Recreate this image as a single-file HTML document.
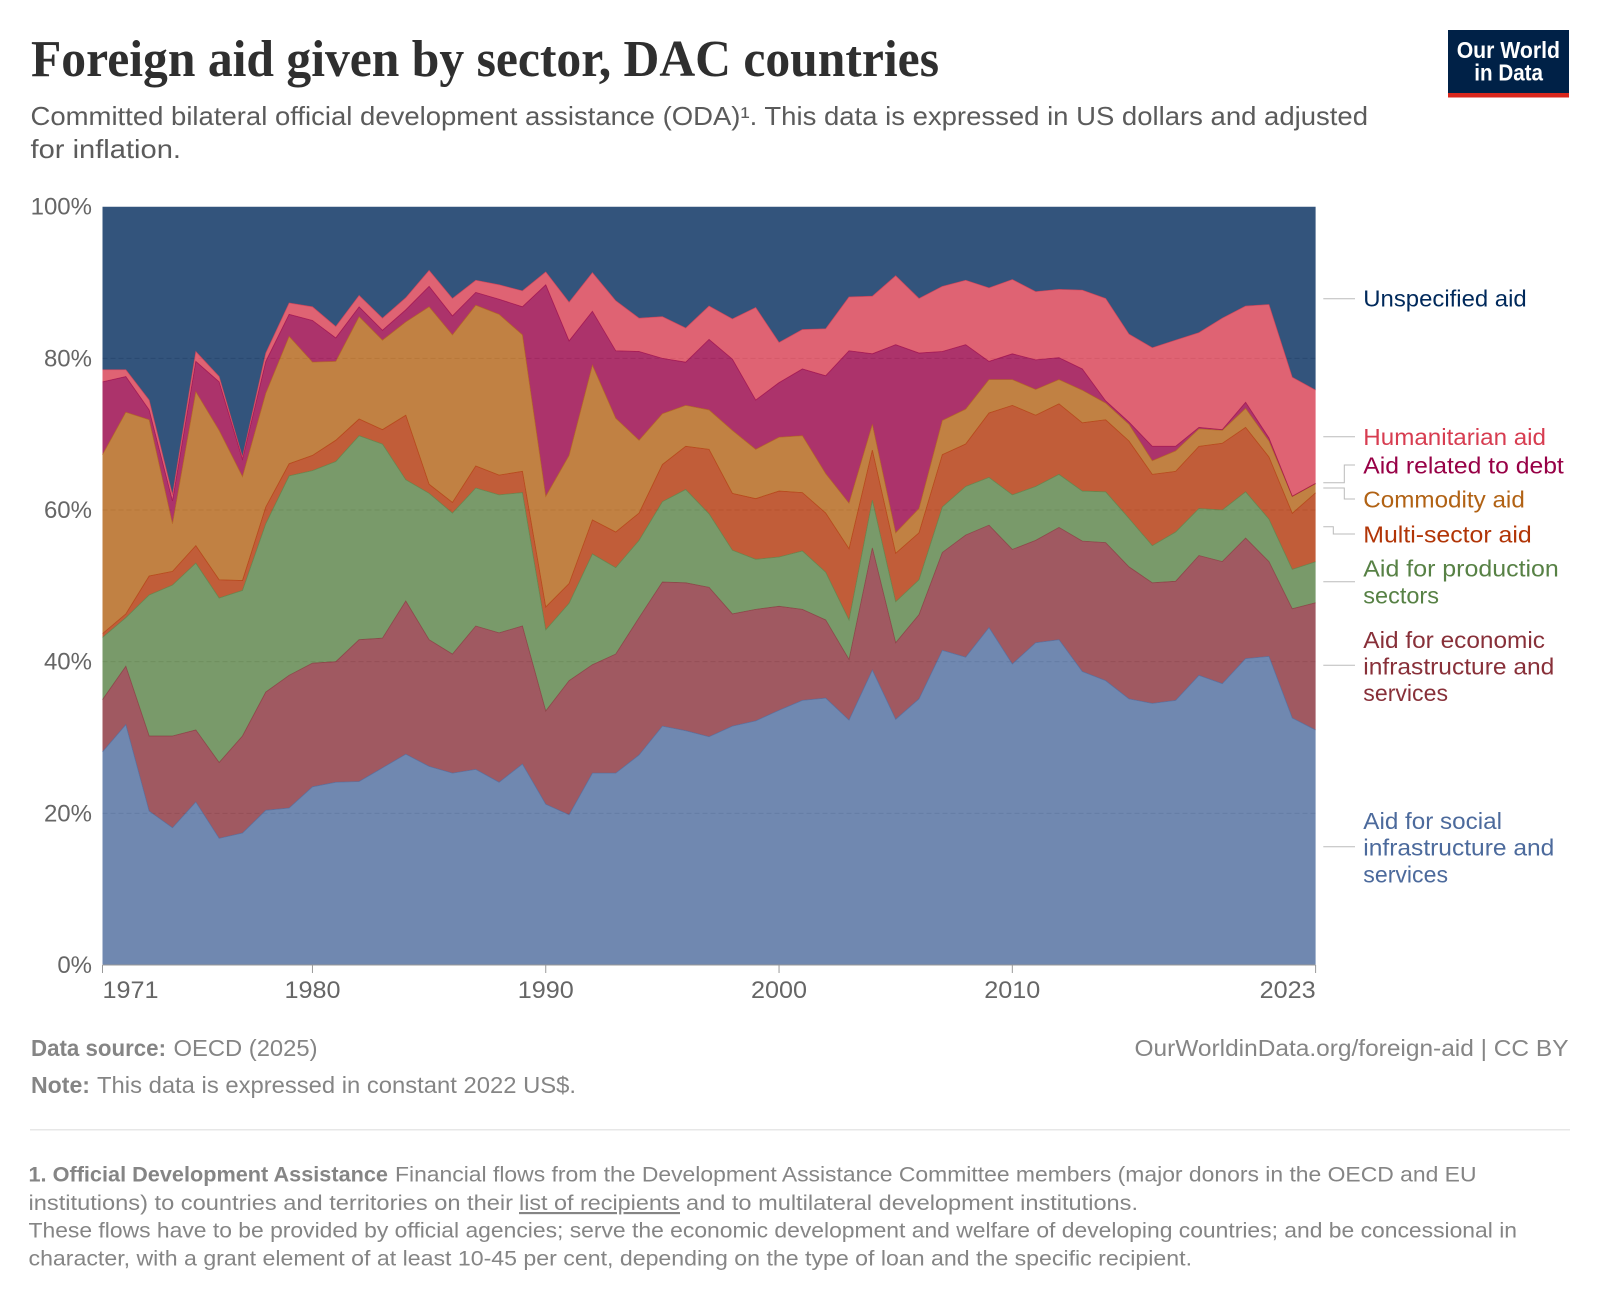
<!DOCTYPE html>
<html lang="en">
<head>
<meta charset="utf-8">
<title>Foreign aid given by sector, DAC countries</title>
<style>
html,body{margin:0;padding:0;background:#fff;}
svg{display:block;}
text{font-family:"Liberation Sans",sans-serif;}
.title{font-family:"Liberation Serif",serif;font-weight:700;font-size:52px;fill:#2f2f2f;}
.sub{font-size:26px;fill:#5b5b5b;}
.tick{font-size:24px;fill:#666;}
.leg{font-size:23.5px;}
.src{font-size:23px;fill:#858585;}
.fn{font-size:21.5px;fill:#858585;}
.b{font-weight:700;}
.conn{fill:none;stroke:#bbb;stroke-width:1;}
</style>
</head>
<body>
<svg id="chart" xmlns="http://www.w3.org/2000/svg" width="1600" height="1302" viewBox="0 0 1600 1302">
<rect x="0" y="0" width="1600" height="1302" fill="#fff"/>
<text class="title" x="31" y="76" textLength="908" lengthAdjust="spacingAndGlyphs">Foreign aid given by sector, DAC countries</text>
<text class="sub" x="30.5" y="125" textLength="1337.5" lengthAdjust="spacingAndGlyphs">Committed bilateral official development assistance (ODA)¹. This data is expressed in US dollars and adjusted</text>
<text class="sub" x="30.5" y="158" textLength="150.5" lengthAdjust="spacingAndGlyphs">for inflation.</text>

<g>
<rect x="1448" y="30" width="121" height="67.5" fill="#002147"/>
<rect x="1448" y="93" width="121" height="4.5" fill="#d9261c"/>
<text x="1456.7" y="58" fill="#fff" font-weight="700" font-size="23" textLength="103.3" lengthAdjust="spacingAndGlyphs">Our World</text>
<text x="1474.3" y="80.7" fill="#fff" font-weight="700" font-size="23" textLength="68.7" lengthAdjust="spacingAndGlyphs">in Data</text>
</g>

<g id="grid"></g>
<g id="areas"></g>
<g id="axes"></g>

<g>
<path class="conn" d="M1323.3 298.7H1355"/>
<path class="conn" d="M1323.3 436.7H1355"/>
<path class="conn" d="M1323.3 482.7H1344.3V465H1355"/>
<path class="conn" d="M1323.3 488H1344.3V499H1355"/>
<path class="conn" d="M1323.3 526.7H1333.3V534H1355"/>
<path class="conn" d="M1323.3 581.7H1355"/>
<path class="conn" d="M1323.3 665.3H1355"/>
<path class="conn" d="M1323.3 846.7H1355"/>
<text class="leg" x="1363.3" y="306.7" fill="#00295b" textLength="163.4" lengthAdjust="spacingAndGlyphs">Unspecified aid</text>
<text class="leg" x="1363.3" y="445" fill="#d73c50" textLength="182.7" lengthAdjust="spacingAndGlyphs">Humanitarian aid</text>
<text class="leg" x="1363.3" y="473.3" fill="#970046" textLength="200.5" lengthAdjust="spacingAndGlyphs">Aid related to debt</text>
<text class="leg" x="1363.3" y="507.3" fill="#b16214" textLength="161.5" lengthAdjust="spacingAndGlyphs">Commodity aid</text>
<text class="leg" x="1363.3" y="542.3" fill="#b13507" textLength="168.4" lengthAdjust="spacingAndGlyphs">Multi-sector aid</text>
<text class="leg" x="1363.3" y="576.7" fill="#578145" textLength="195.5" lengthAdjust="spacingAndGlyphs">Aid for production</text>
<text class="leg" x="1363.3" y="603.3" fill="#578145" textLength="75.7" lengthAdjust="spacingAndGlyphs">sectors</text>
<text class="leg" x="1363.3" y="648" fill="#883039" textLength="181.7" lengthAdjust="spacingAndGlyphs">Aid for economic</text>
<text class="leg" x="1363.3" y="674.5" fill="#883039" textLength="191" lengthAdjust="spacingAndGlyphs">infrastructure and</text>
<text class="leg" x="1363.3" y="701" fill="#883039" textLength="84.7" lengthAdjust="spacingAndGlyphs">services</text>
<text class="leg" x="1363.3" y="829" fill="#4c6a9c" textLength="138.7" lengthAdjust="spacingAndGlyphs">Aid for social</text>
<text class="leg" x="1363.3" y="855.5" fill="#4c6a9c" textLength="191" lengthAdjust="spacingAndGlyphs">infrastructure and</text>
<text class="leg" x="1363.3" y="882.5" fill="#4c6a9c" textLength="84.7" lengthAdjust="spacingAndGlyphs">services</text>
</g>

<text class="src b" x="31" y="1056" textLength="135" lengthAdjust="spacingAndGlyphs">Data source:</text>
<text class="src" x="173.5" y="1056" textLength="144" lengthAdjust="spacingAndGlyphs">OECD (2025)</text>
<text class="src" x="1134.5" y="1056" textLength="434" lengthAdjust="spacingAndGlyphs">OurWorldinData.org/foreign-aid | CC BY</text>
<text class="src b" x="31" y="1093" textLength="59" lengthAdjust="spacingAndGlyphs">Note:</text>
<text class="src" x="97" y="1093" textLength="479" lengthAdjust="spacingAndGlyphs">This data is expressed in constant 2022 US$.</text>
<rect x="30" y="1129" width="1540" height="1.5" fill="#e7e7e7"/>
<text class="fn b" x="28.5" y="1181.7" textLength="359.5" lengthAdjust="spacingAndGlyphs">1. Official Development Assistance</text>
<text class="fn" x="395" y="1181.7" textLength="1081.5" lengthAdjust="spacingAndGlyphs">Financial flows from the Development Assistance Committee members (major donors in the OECD and EU</text>
<text class="fn" x="28.5" y="1210" textLength="484.5" lengthAdjust="spacingAndGlyphs">institutions) to countries and territories on their</text>
<text class="fn" x="519" y="1210" textLength="161" lengthAdjust="spacingAndGlyphs" text-decoration="underline">list of recipients</text>
<text class="fn" x="686" y="1210" textLength="452" lengthAdjust="spacingAndGlyphs">and to multilateral development institutions.</text>
<text class="fn" x="28.5" y="1237.5" textLength="1488.5" lengthAdjust="spacingAndGlyphs">These flows have to be provided by official agencies; serve the economic development and welfare of developing countries; and be concessional in</text>
<text class="fn" x="28.5" y="1265.5" textLength="1163.5" lengthAdjust="spacingAndGlyphs">character, with a grant element of at least 10-45 per cent, depending on the type of loan and the specific recipient.</text>
</svg>

<script>
const years = [1971,1972,1973,1974,1975,1976,1977,1978,1979,1980,1981,1982,1983,1984,1985,1986,1987,1988,1989,1990,1991,1992,1993,1994,1995,1996,1997,1998,1999,2000,2001,2002,2003,2004,2005,2006,2007,2008,2009,2010,2011,2012,2013,2014,2015,2016,2017,2018,2019,2020,2021,2022,2023];
const socialAid = [28.1,31.7,20.3,18.1,21.5,16.7,17.4,20.4,20.7,23.5,24.1,24.2,26.0,27.8,26.2,25.3,25.8,24.1,26.5,21.2,19.8,25.3,25.3,27.7,31.5,30.9,30.1,31.5,32.2,33.6,34.9,35.2,32.3,38.9,32.4,35.1,41.5,40.6,44.5,39.7,42.5,42.9,38.7,37.5,35.1,34.5,34.9,38.2,37.1,40.4,40.7,32.6,31.0];
const economicAid = [6.9,7.7,9.9,12.1,9.5,10.0,12.8,15.6,17.5,16.3,15.9,18.7,17.1,20.2,16.7,15.7,18.9,19.7,18.2,12.3,17.7,14.3,15.7,18.1,19.0,19.5,19.7,14.8,14.7,13.7,12.0,10.3,8.0,16.1,10.1,11.1,12.9,16.1,13.5,15.1,13.5,14.8,17.2,18.2,17.4,15.9,15.7,15.8,16.1,15.9,12.5,14.4,16.8];
const productionAid = [8.2,6.4,18.6,19.9,22.0,21.7,19.2,22.2,26.3,25.4,26.4,26.9,25.6,16.0,19.3,18.6,18.2,18.2,17.6,10.7,10.2,14.6,11.4,10.2,10.6,12.3,9.7,8.4,6.6,6.5,7.7,6.3,5.2,6.3,5.4,4.6,6.0,6.4,6.3,7.2,7.1,7.0,6.6,6.7,6.4,4.9,6.5,6.2,6.8,6.1,5.6,5.2,5.4];
const multiSectorAid = [0.5,0.5,2.5,1.8,2.3,2.4,1.3,2.2,1.6,2.0,2.8,2.2,1.9,8.5,1.2,1.4,2.9,2.6,2.8,3.0,2.6,4.5,4.7,3.6,4.9,5.7,8.5,7.5,8.0,8.7,7.7,7.8,9.4,6.6,6.4,6.2,6.9,5.6,8.5,11.8,9.4,9.3,9.0,9.5,10.2,9.4,8.0,8.2,8.8,8.5,8.2,7.4,9.1];
const commodityAid = [23.6,26.6,20.6,6.3,20.3,19.7,13.7,15.0,16.8,12.3,10.4,13.5,11.8,12.3,23.4,22.1,21.2,21.2,18.0,14.6,16.9,20.4,15.0,9.6,6.7,5.4,5.2,8.3,6.5,7.1,7.5,5.2,6.0,3.4,2.7,3.2,4.5,4.6,4.4,3.4,3.4,3.2,4.3,2.2,2.2,1.8,2.7,2.3,1.7,2.5,2.1,2.2,1.2];
const debtAid = [9.6,4.7,1.3,3.0,4.0,6.4,2.3,4.2,2.9,5.5,3.1,1.3,1.3,1.6,2.7,2.5,1.7,2.0,3.7,27.9,15.1,7.1,8.9,11.7,7.3,5.7,9.3,9.4,6.5,7.2,8.8,12.9,20.1,9.3,24.8,20.5,9.1,8.5,2.4,3.4,3.9,2.9,2.8,0.3,0.3,1.9,0.6,0.2,0.1,0.8,0.4,0.05,0.05];
const humanitarianAid = [1.6,0.9,1.3,0.8,1.3,0.7,0.3,1.1,1.5,1.8,1.5,1.5,1.6,1.6,2.1,2.3,1.6,1.9,2.1,1.7,5.1,5.1,6.6,4.4,5.5,4.5,4.4,5.3,12.2,5.3,5.2,6.2,7.1,7.6,9.1,7.2,8.6,8.5,9.7,9.8,9.0,9.0,10.4,13.5,11.6,13.0,14.0,12.5,14.7,12.7,17.6,15.7,12.3];
const unspecifiedAid = [21.5,21.5,25.5,38.0,19.1,22.4,33.0,19.3,12.7,13.2,15.8,11.7,14.7,12.0,8.4,12.1,9.7,10.3,11.1,8.6,12.6,8.7,12.4,14.7,14.5,16.0,13.1,14.8,13.3,17.9,16.2,16.1,11.9,11.8,9.1,12.1,10.5,9.7,10.7,9.6,11.2,10.9,11.0,12.1,16.8,18.6,17.6,16.6,14.7,13.1,12.9,22.5,24.2];
const yTickValues = [0,20,40,60,80,100];
const xTickYears = [1971,1980,1990,2000,2010,2023];

const stackOrder = [
  {name:'social', values:socialAid, color:'#4c6a9c'},
  {name:'economic', values:economicAid, color:'#883039'},
  {name:'production', values:productionAid, color:'#578145'},
  {name:'multi-sector', values:multiSectorAid, color:'#b13507'},
  {name:'commodity', values:commodityAid, color:'#b16214'},
  {name:'debt', values:debtAid, color:'#970046'},
  {name:'humanitarian', values:humanitarianAid, color:'#d73c50'},
  {name:'unspecified', values:unspecifiedAid, color:'#00295b'}
];

const NS = 'http://www.w3.org/2000/svg';
const plotLeft = 102.5, plotRight = 1315.6, plotTop = 206.7, plotBottom = 965;
const firstYear = years[0], lastYear = years[years.length - 1];
function xScale(year) { return plotLeft + (year - firstYear) / (lastYear - firstYear) * (plotRight - plotLeft); }
function yScale(pct) { return plotBottom - pct / 100 * (plotBottom - plotTop); }
function node(tag, attrs) {
  const el = document.createElementNS(NS, tag);
  for (const k in attrs) el.setAttribute(k, attrs[k]);
  return el;
}

const gridGroup = document.getElementById('grid');
yTickValues.forEach(function (v) {
  if (v === 0 || v === 100) return;
  const line = node('line', {x1: plotLeft, x2: plotRight, y1: yScale(v), y2: yScale(v), stroke: '#c8c8c8', 'stroke-width': 1, 'stroke-dasharray': '5,3'});
  
  
  gridGroup.appendChild(line);
});

const areasGroup = document.getElementById('areas');
const cumulative = years.map(function () { return 0; });
const totals = years.map(function (_, i) {
  return stackOrder.reduce(function (sum, s) { return sum + s.values[i]; }, 0);
});
stackOrder.forEach(function (series) {
  const lower = cumulative.slice();
  series.values.forEach(function (v, i) { cumulative[i] += v / totals[i] * 100; });
  const topPts = years.map(function (yr, i) { return xScale(yr).toFixed(2) + ' ' + yScale(cumulative[i]).toFixed(2); });
  const bottomPts = years.map(function (yr, i) { return xScale(yr).toFixed(2) + ' ' + yScale(lower[i]).toFixed(2); }).reverse();
  const area = node('path', {d: 'M' + topPts.join('L') + 'L' + bottomPts.join('L') + 'Z', fill: series.color, 'fill-opacity': 0.8});
  
  
  areasGroup.appendChild(area);
});
cumulative.fill(0);
stackOrder.forEach(function (series) {
  series.values.forEach(function (v, i) { cumulative[i] += v / totals[i] * 100; });
  if (series.name === 'unspecified') return;
  const pts = years.map(function (yr, i) { return xScale(yr).toFixed(2) + ' ' + yScale(cumulative[i]).toFixed(2); });
  const border = node('path', {d: 'M' + pts.join('L'), fill: 'none', stroke: series.color, 'stroke-width': 0.8, 'stroke-opacity': 0.7});
  
  
  areasGroup.appendChild(border);
});

const axesGroup = document.getElementById('axes');
const baseLine = node('line', {x1: plotLeft, x2: plotRight, y1: plotBottom, y2: plotBottom, stroke: '#999', 'stroke-width': 1});


axesGroup.appendChild(baseLine);

yTickValues.forEach(function (v) {
  const label = node('text', {x: 92, y: (yScale(v) + 8).toFixed(2), 'text-anchor': 'end', class: 'tick'});
  
  
  label.textContent = v + '%';
  axesGroup.appendChild(label);
});

xTickYears.forEach(function (yr, i) {
  const tick = node('line', {x1: xScale(yr), x2: xScale(yr), y1: plotBottom, y2: plotBottom + 8, stroke: '#999', 'stroke-width': 1});
  
  
  axesGroup.appendChild(tick);
  const anchor = i === 0 ? 'start' : (i === xTickYears.length - 1 ? 'end' : 'middle');
  const label = node('text', {x: xScale(yr), y: 998, 'text-anchor': anchor, class: 'tick', textLength: 56, lengthAdjust: 'spacingAndGlyphs'});
  
  
  label.textContent = String(yr);
  axesGroup.appendChild(label);
});
</script>
</body>
</html>
